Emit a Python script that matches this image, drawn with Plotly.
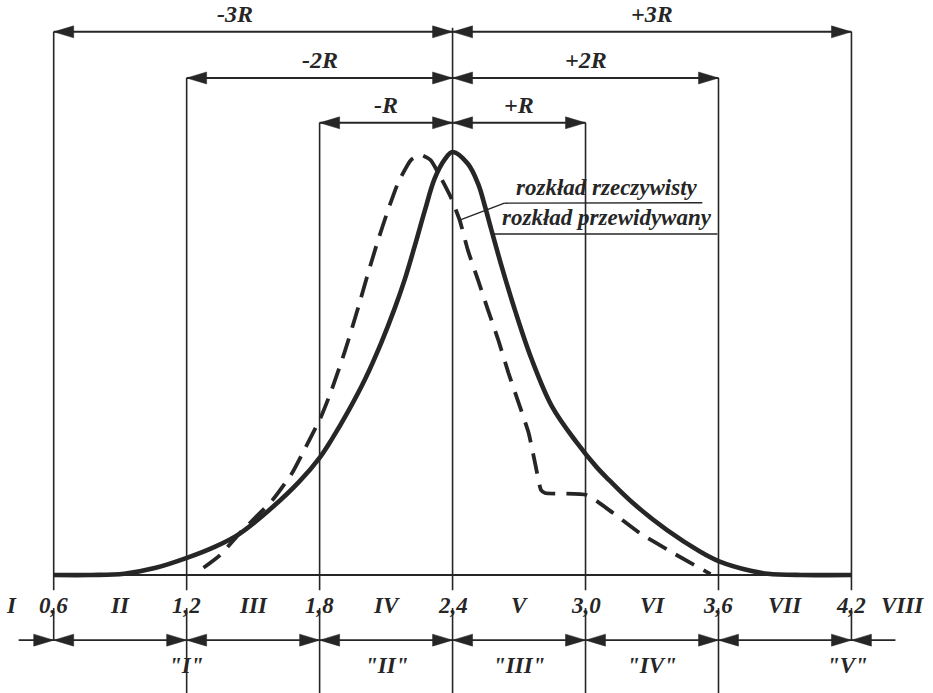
import plotly.graph_objects as go

# ---------------- data ----------------
# actual distribution (solid)
solid_x = [0.600, 0.770, 0.918, 1.061, 1.204, 1.329, 1.440, 1.587, 1.707, 1.804, 1.854,
           1.930, 2.006, 2.078, 2.140, 2.185, 2.230, 2.275, 2.319, 2.364, 2.400, 2.469,
           2.515, 2.547, 2.574, 2.620, 2.684, 2.757, 2.849, 2.959, 3.050, 3.109, 3.214,
           3.368, 3.518, 3.600, 3.745, 3.823, 3.973, 4.200]
solid_y = [0.000, 0.000, 0.003, 0.017, 0.041, 0.067, 0.098, 0.160, 0.220, 0.280, 0.320,
           0.388, 0.464, 0.549, 0.632, 0.700, 0.779, 0.862, 0.937, 0.982, 1.000, 0.972,
           0.925, 0.870, 0.818, 0.732, 0.622, 0.510, 0.398, 0.314, 0.255, 0.223, 0.170,
           0.106, 0.055, 0.033, 0.010, 0.003, 0.000, 0.000]

# predicted distribution (dashed)
dashed_x = [1.276, 1.351, 1.440, 1.587, 1.676, 1.738, 1.804, 1.854, 1.916, 1.975, 2.019,
            2.064, 2.109, 2.154, 2.212, 2.257, 2.301, 2.333, 2.391, 2.432, 2.469, 2.515,
            2.560, 2.606, 2.652, 2.698, 2.743, 2.776, 2.799, 2.817, 3.005, 3.123, 3.245,
            3.395, 3.564]
dashed_y = [0.017, 0.047, 0.099, 0.177, 0.241, 0.303, 0.371, 0.437, 0.532, 0.634, 0.714,
            0.792, 0.863, 0.927, 0.981, 0.993, 0.981, 0.953, 0.894, 0.839, 0.768, 0.697,
            0.626, 0.556, 0.478, 0.407, 0.336, 0.255, 0.201, 0.194, 0.189, 0.147, 0.099,
            0.052, 0.002]

tick_vals = [0.6, 1.2, 1.8, 2.4, 3.0, 3.6, 4.2]
tick_labels = ["0,6", "1,2", "1,8", "2,4", "3,0", "3,6", "4,2"]
zone_labels = ["I", "II", "III", "IV", "V", "VI", "VII", "VIII"]
class_labels = ['"I"', '"II"', '"III"', '"IV"', '"V"']
class_pos = [1.2, 2.1, 2.7, 3.3, 4.18]
span_labels = ["-3R", "-2R", "-R", "+R", "+2R", "+3R"]
label_actual = "rozkład rzeczywisty"
label_pred = "rozkład przewidywany"

# ---------------- layout helpers ----------------
W, H = 933, 693
PXX = 221.6          # px per x unit
PXY = 423.0          # px per y unit
x0 = 0.3577
x1 = x0 + W / PXX
y0 = -118.0 / PXY
y1 = y0 + H / PXY

INK = "#262626"
FONT = "Liberation Serif, Times New Roman, serif"

center = tick_vals[3]
row_y = {3: 1.284, 2: 1.175, 1: 1.069}   # dimension rows for 3R, 2R, R
lab_dy = 0.043
base_bottom = -0.036
low_top = -0.078
low_row = -0.154
bottom = y0

AL = 20.0 / PXX
AW = 6.0 / PXY

shapes = []


def line(xa, ya, xb, yb, w=1.6):
    shapes.append(dict(type="line", x0=xa, y0=ya, x1=xb, y1=yb,
                       line=dict(color=INK, width=w), layer="above"))


def head(xt, yt, direction):
    # direction +1 : pointing right (tip at xt), -1 : pointing left
    xb = xt - direction * AL
    shapes.append(dict(type="path",
                       path=f"M {xt},{yt} L {xb},{yt + AW} L {xb},{yt - AW} Z",
                       fillcolor=INK, line=dict(color=INK, width=0.5), layer="above"))


def txt(x, y, s, size):
    return dict(x=x, y=y, text=f"<b><i>{s}</i></b>", showarrow=False,
                font=dict(family=FONT, size=size, color=INK))


fig = go.Figure()

# curves
fig.add_trace(go.Scatter(x=solid_x, y=solid_y, mode="lines",
                         line=dict(color=INK, width=4.6, shape="spline", smoothing=1.0),
                         hoverinfo="skip", showlegend=False))
fig.add_trace(go.Scatter(x=dashed_x, y=dashed_y, mode="lines",
                         line=dict(color=INK, width=3.8, dash="21px,11px",
                                   shape="spline", smoothing=0.5),
                         hoverinfo="skip", showlegend=False))

# baseline
line(tick_vals[0], 0, tick_vals[-1], 0, 2.2)

# vertical lines and dimension arrows
for i, tv in enumerate(tick_vals):
    k = abs(i - 3)
    top = row_y[k] if k > 0 else row_y[3] + 0.01
    line(tv, top, tv, base_bottom, 1.6)
    low_end = low_row if k == 3 else bottom
    line(tv, low_top, tv, low_end, 1.6)
    head(tv, low_row, 1)
    head(tv, low_row, -1)

# lower row line
line(0.6 - 35.0 / PXX, low_row, 4.2 + 44.0 / PXX, low_row, 1.8)

annotations = []
for k in (3, 2, 1):
    ry = row_y[k]
    left = tick_vals[3 - k]
    right = tick_vals[3 + k]
    line(left, ry, center, ry, 2.0)
    line(center, ry, right, ry, 2.0)
    head(left, ry, -1)
    head(center, ry, 1)
    head(center, ry, -1)
    head(right, ry, 1)
    annotations.append(txt((left + center) / 2 - (0.08 if k == 3 else 0.0), ry + lab_dy,
                           span_labels[3 - k], 24))
    annotations.append(txt((right + center) / 2, ry + lab_dy, span_labels[2 + k], 24))

# tick labels
for tv, tl in zip(tick_vals, tick_labels):
    annotations.append(txt(tv, -0.071, tl, 23))

# zone labels
zone_pos = [tick_vals[0] - 0.19] + [(a + b) / 2 for a, b in zip(tick_vals[:-1], tick_vals[1:])] \
           + [tick_vals[-1] + 0.23]
for zp, zl in zip(zone_pos, zone_labels):
    annotations.append(txt(zp, -0.071, zl, 23))

# class labels
for cp, cl in zip(class_pos, class_labels):
    annotations.append(txt(cp, -0.213, cl, 23))

# legend labels with leader lines
line(2.432, 0.839, 2.634, 0.879, 1.4)
line(2.634, 0.879, 3.527, 0.880, 1.4)
line(2.574, 0.806, 3.595, 0.806, 1.4)
annotations.append(txt(3.095, 0.917, label_actual, 23))
annotations.append(txt(3.095, 0.845, label_pred, 23))

fig.update_layout(
    width=W, height=H,
    margin=dict(l=0, r=0, t=0, b=0),
    paper_bgcolor="white", plot_bgcolor="white",
    xaxis=dict(range=[x0, x1], visible=False, fixedrange=True),
    yaxis=dict(range=[y0, y1], visible=False, fixedrange=True),
    shapes=shapes, annotations=annotations,
    showlegend=False,
)

fig.write_html("out.html")
